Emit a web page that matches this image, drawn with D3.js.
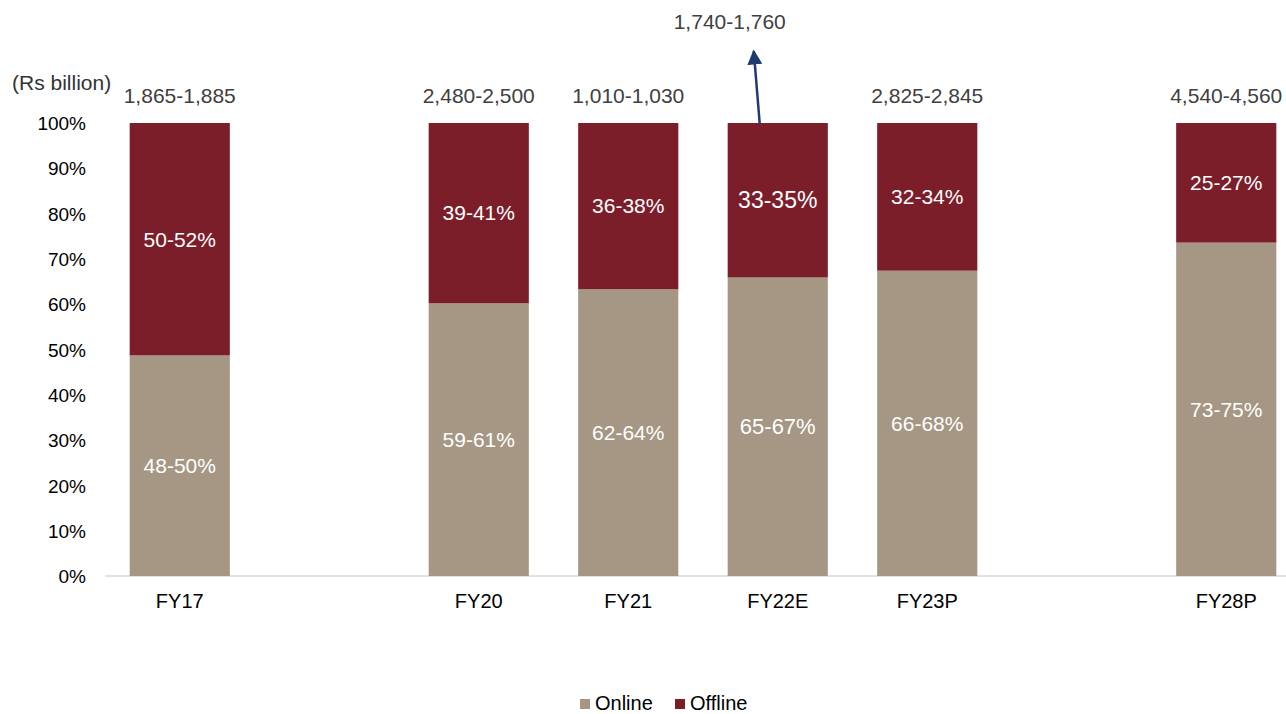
<!DOCTYPE html>
<html>
<head>
<meta charset="utf-8">
<script src="https://cdn.jsdelivr.net/npm/d3@7"></script>
<style>
  body { margin: 0; background: #fff; }
  text { font-family: "Liberation Sans", Arial, sans-serif; }
</style>
</head>
<body>
<svg id="chart"></svg>
<script>
const width = 1286;
const height = 714;

// slots, blanks keep the gaps between years
const slots = ['FY17', 'g1', 'FY20', 'FY21', 'FY22E', 'FY23P', 'g2', 'FY28P'];
const years = ['FY17', 'FY20', 'FY21', 'FY22E', 'FY23P', 'FY28P'];
const online = [48.7, 60.2, 63.3, 65.9, 67.4, 73.6];
const onlineLabels = ['48-50%', '59-61%', '62-64%', '65-67%', '66-68%', '73-75%'];
const offlineLabels = ['50-52%', '39-41%', '36-38%', '33-35%', '32-34%', '25-27%'];
const totals = ['1,865-1,885', '2,480-2,500', '1,010-1,030', '1,740-1,760', '2,825-2,845', '4,540-4,560'];
const yTicks = [0, 10, 20, 30, 40, 50, 60, 70, 80, 90, 100];

const colOnline = '#a69784';
const colOffline = '#7b1e2a';

const svg = d3.select('#chart').attr('width', width).attr('height', height);

const x = d3.scaleBand().domain(slots).range([105, 1301]).paddingInner(0.33).paddingOuter(0.165);
const y = d3.scaleLinear().domain([0, 100]).range([576, 123]);

// x axis line
svg.append('line')
    .attr('x1', 105).attr('x2', 1301)
    .attr('y1', y(0)).attr('y2', y(0))
    .attr('stroke', '#d9d9d9').attr('stroke-width', 1.5);

// y axis
const yAxis = svg.append('g')
    .attr('transform', 'translate(90,0)')
    .call(d3.axisLeft(y).tickValues(yTicks).tickFormat(d => d + '%').tickSize(0));
yAxis.select('.domain').remove();
yAxis.selectAll('text')
    .attr('x', -4).attr('dy', '0.35em')
    .attr('font-size', 19).attr('fill', '#000')
    .style('font-family', '"Liberation Sans", Arial, sans-serif');

svg.append('text')
    .attr('x', 12).attr('y', 83).attr('dy', '0.35em')
    .attr('font-size', 21).attr('fill', '#333')
    .text('(Rs billion)');

const rows = years.map((yr, i) => ({
    year: yr, online: online[i], offline: 100 - online[i],
    onLab: onlineLabels[i], offLab: offlineLabels[i], total: totals[i]
}));

const bars = svg.selectAll('g.bar').data(rows).enter().append('g').attr('class', 'bar');

bars.append('rect')
    .attr('x', d => x(d.year)).attr('width', x.bandwidth())
    .attr('y', d => y(d.online)).attr('height', d => y(0) - y(d.online))
    .attr('fill', colOnline);

bars.append('rect')
    .attr('x', d => x(d.year)).attr('width', x.bandwidth())
    .attr('y', y(100)).attr('height', d => y(d.online) - y(100))
    .attr('fill', colOffline);

bars.append('text')
    .attr('x', d => x(d.year) + x.bandwidth() / 2)
    .attr('y', d => (y(0) + y(d.online)) / 2)
    .attr('dy', '0.35em').attr('text-anchor', 'middle')
    .attr('font-size', d => d.year == 'FY22E' ? 22 : 21).attr('fill', '#fff')
    .text(d => d.onLab);

bars.append('text')
    .attr('x', d => x(d.year) + x.bandwidth() / 2)
    .attr('y', d => (y(100) + y(d.online)) / 2)
    .attr('dy', '0.35em').attr('text-anchor', 'middle')
    .attr('font-size', d => d.year == 'FY22E' ? 23 : 21).attr('fill', '#fff')
    .text(d => d.offLab);

// totals above bars, FY22E sits higher with an arrow
bars.append('text')
    .attr('x', d => x(d.year) + x.bandwidth() / 2 + (d.year == 'FY22E' ? -48 : 0))
    .attr('y', d => d.year == 'FY22E' ? 22 : 96)
    .attr('dy', '0.35em').attr('text-anchor', 'middle')
    .attr('font-size', 21).attr('fill', '#404040')
    .text(d => d.total);

// category labels
svg.selectAll('text.cat').data(years).enter().append('text')
    .attr('class', 'cat')
    .attr('x', d => x(d) + x.bandwidth() / 2)
    .attr('y', 601).attr('dy', '0.35em').attr('text-anchor', 'middle')
    .attr('font-size', 20).attr('fill', '#000')
    .text(d => d);

// arrow for FY22E
svg.append('defs').append('marker')
    .attr('id', 'arrow').attr('viewBox', '0 0 10 10')
    .attr('refX', 9).attr('refY', 5)
    .attr('markerWidth', 6).attr('markerHeight', 6)
    .attr('orient', 'auto-start-reverse')
    .append('path').attr('d', 'M0,0 L10,5 L0,10 Z').attr('fill', '#1f3a70');

const ax = x('FY22E') + x.bandwidth() / 2;
svg.append('line')
    .attr('x1', ax - 18).attr('y1', y(100) + 1)
    .attr('x2', ax - 24).attr('y2', 51)
    .attr('stroke', '#1f3a70').attr('stroke-width', 2.5)
    .attr('marker-end', 'url(#arrow)');

// legend
const legend = [['Online', colOnline, 580], ['Offline', colOffline, 675]];
legend.forEach(([name, c, lx]) => {
    svg.append('rect').attr('x', lx).attr('y', 699).attr('width', 10).attr('height', 10).attr('fill', c);
    svg.append('text').attr('x', lx + 15).attr('y', 703).attr('dy', '0.35em')
        .attr('font-size', 20).attr('fill', '#000').text(name);
});
</script>
</body>
</html>
